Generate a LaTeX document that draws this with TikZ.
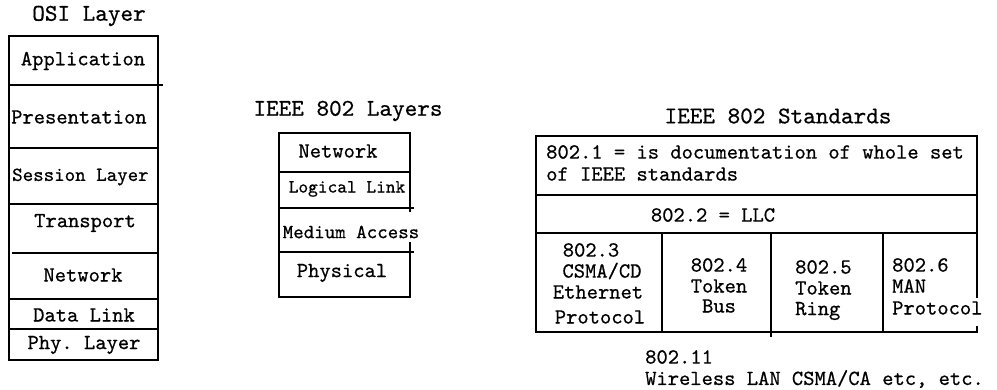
\documentclass[tikz,border=0pt]{standalone}
\usepackage{fontspec}
\setmonofont{lmmono10-regular.otf}[FakeBold=0.6]
\begin{document}
\begin{tikzpicture}[x=1pt,y=-1pt,
  ln/.style={line width=1.2pt,line cap=rect},
  lbl/.style={inner sep=0pt,font=\ttfamily\fontsize{21.5}{24}\selectfont},
  ttl/.style={inner sep=0pt,font=\ttfamily\fontsize{24}{27}\selectfont}]
\useasboundingbox (0,0) rectangle (997,390);
% ---------- OSI ----------
\node[ttl] (osit) at (89,16) {OSI Layer};
\draw[ln] (9,36) rectangle (158,360);
\draw[ln] (9,85) -- (162,85);
\draw[ln] (9,148) -- (158,148);
\draw[ln] (9,204) -- (158,204);
\draw[ln] (13,253) -- (158,253);
\draw[ln] (9,299) -- (158,299);
\draw[ln] (9,329) -- (158,329);
\node[lbl] (app) at (83,61) {Application};
\node[lbl,anchor=west] (pres) at (11,117) {Presentation};
\node[lbl,anchor=west,font=\ttfamily\fontsize{20}{24}\selectfont] (sess) at (12,177) {Session Layer};
\node[lbl] (trans) at (85,223) {Transport};
\node[lbl] (net) at (83,275) {Network};
\node[lbl] (dl) at (84,315) {Data Link};
\node[lbl] (phy) at (84,345) {Phy. Layer};
% ---------- IEEE 802 Layers ----------
\node[ttl] (layt) at (348,111) {IEEE 802 Layers};
\draw[ln] (410,211) -- (410,133) -- (279,133) -- (279,297) -- (410,297) -- (410,243);
\draw[ln] (279,172) -- (410,172);
\draw[ln] (279,208) -- (413,208);
\draw[ln] (279,252) -- (413,252);
\node[lbl] (lnet) at (338,151) {Network};
\node[lbl,font=\ttfamily\fontsize{18.5}{22}\selectfont] (llink) at (347,189) {Logical Link};
\node[lbl,font=\ttfamily\fontsize{20}{24}\selectfont] (lmac) at (351,232) {Medium Access};
\node[lbl] (lphy) at (342,273) {Physical};
% ---------- IEEE 802 Standards ----------
\node[ttl] (stdt) at (778,116) {IEEE 802 Standards};
\draw[ln] (977,297) -- (977,136) -- (536,136) -- (536,332) -- (977,332) -- (977,327);
\draw[ln] (536,195) -- (977,195);
\draw[ln] (536,233) -- (977,233);
\draw[ln] (662,233) -- (662,332);
\draw[ln] (771,233) -- (771,336);
\draw[ln] (883,233) -- (883,332);
\node[lbl,anchor=west] (s1a) at (546,152) {802.1 = is documentation of whole set};
\node[lbl,anchor=west] (s1b) at (546,174) {of IEEE standards};
\node[lbl] (s2) at (713,215) {802.2 = LLC};
\node[lbl] (s3a) at (591,250) {802.3};
\node[lbl] (s3b) at (602,271) {CSMA/CD};
\node[lbl] (s3c) at (598,292) {Ethernet};
\node[lbl] (s3d) at (600,317) {Protocol};
\node[lbl] (s4a) at (719,265) {802.4};
\node[lbl] (s4b) at (719,286) {Token};
\node[lbl] (s4c) at (719,306) {Bus};
\node[lbl,anchor=west] (s5a) at (795,267) {802.5};
\node[lbl,anchor=west] (s5b) at (795,288) {Token};
\node[lbl,anchor=west] (s5c) at (795,311) {Ring};
\node[lbl,anchor=west] (s6a) at (892,265) {802.6};
\node[lbl,anchor=west] (s6b) at (892,286) {MAN};
\node[lbl,anchor=west] (s6c) at (892,308) {Protocol};
\node[lbl,anchor=west] (s11a) at (645,357) {802.11};
\node[lbl,anchor=west] (s11b) at (645,379) {Wireless LAN CSMA/CA etc, etc.};
\end{tikzpicture}
\end{document}
